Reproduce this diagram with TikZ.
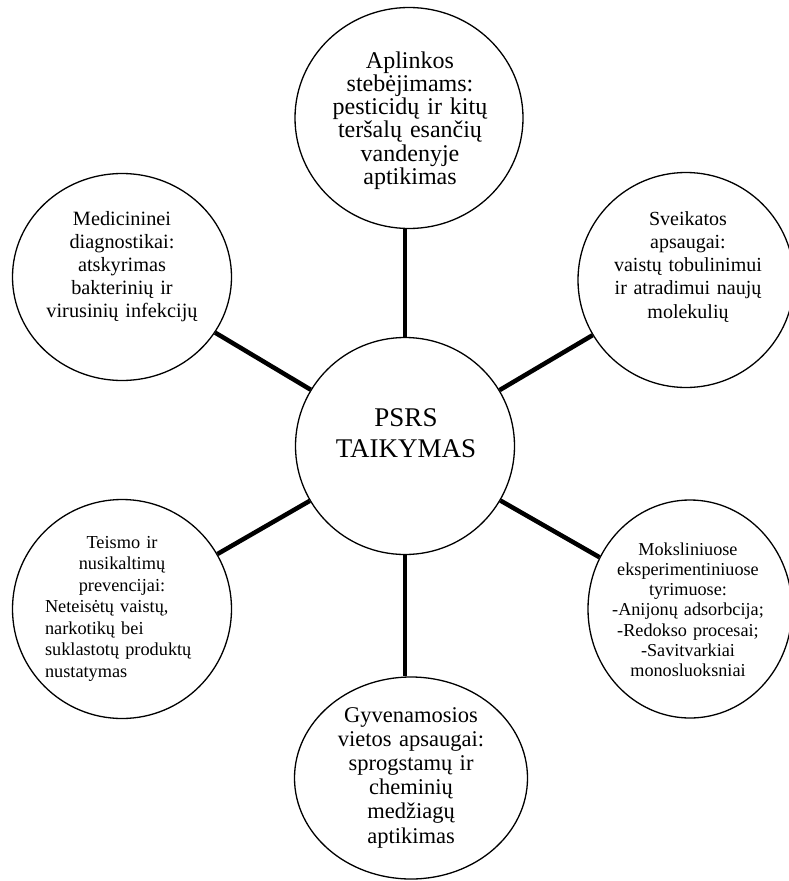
\documentclass[tikz,border=0pt]{standalone}
\usepackage{fontspec}
\setmainfont{Liberation Serif}
\usetikzlibrary{shapes.geometric}
\tikzset{
  bubble/.style={ellipse, draw=black, line width=1.3pt, inner sep=0pt, fill=white},
  spoke/.style={draw=black, line width=4.5pt},
  btext/.style={anchor=base, inner sep=0pt, align=center},
}
\begin{document}
\begin{tikzpicture}[x=1pt,y=-1pt]
\useasboundingbox (0,0) rectangle (789,881);

% spokes first, bubbles drawn over them
\coordinate (c0) at (405,446);
\coordinate (c1) at (122,277);
\coordinate (c2) at (686,280);
\coordinate (c3) at (690,609);
\coordinate (c4) at (122,609);

% bubbles
\node[bubble, minimum width=219pt, minimum height=217pt] (ctr) at (c0) {};
\node[bubble, minimum width=228pt, minimum height=221pt] (top) at (409,118) {};
\node[bubble, minimum width=219pt, minimum height=207pt] (ul) at (c1) {};
\node[bubble, minimum width=216pt, minimum height=215pt] (ur) at (c2) {};
\node[bubble, minimum width=204pt, minimum height=218pt] (lr) at (c3) {};
\node[bubble, minimum width=219pt, minimum height=219pt] (ll) at (c4) {};
\node[bubble, minimum width=233pt, minimum height=202pt] (bot) at (411,778) {};

% spokes
\draw[spoke] (ctr.north) -- (ctr.north |- top.south);
\draw[spoke] (ctr.south) -- (ctr.south |- bot.north);
\draw[spoke] (ctr) -- (ul);
\draw[spoke] (ctr) -- (ur);
\draw[spoke] (ctr) -- (lr);
\draw[spoke] (ctr) -- (ll);

% texts
\node[btext, text width=200pt, font=\fontsize{27}{31}\selectfont] (ctr-t) at (406,426)
  {PSRS\\ TAIKYMAS};
\node[btext, text width=200pt, font=\fontsize{24}{23.3}\selectfont] (top-t) at (410,68)
  {Aplinkos\\ stebėjimams:\\ pesticidų ir kitų\\ teršalų esančių\\ vandenyje\\ aptikimas};
\node[btext, text width=190pt, font=\fontsize{20.3}{23}\selectfont] (ul-t) at (122,225)
  {Medicininei\\ diagnostikai:\\ atskyrimas\\ bakterinių ir\\ virusinių infekcijų};
\node[btext, text width=190pt, font=\fontsize{20}{23.3}\selectfont] (ur-t) at (688,225)
  {Sveikatos\\ apsaugai:\\ vaistų tobulinimui\\ ir atradimui naujų\\ molekulių};
\node[btext, text width=190pt, font=\fontsize{18.2}{20.3}\selectfont] (lr-t) at (688,555)
  {Moksliniuose\\ eksperimentiniuose\\ tyrimuose:\\ -Anijonų adsorbcija;\\ -Redokso procesai;\hspace*{13pt}\\ -Savitvarkiai\hspace*{8pt}\\ monosluoksniai};
\node[anchor=base, inner sep=0pt, align=left, text width=154pt, font=\fontsize{18.3}{21.5}\selectfont] (ll-t) at (122,548)
  {{\centering Teismo ir\\ nusikaltimų\\ prevencijai:\par}Neteisėtų vaistų,\\ narkotikų bei\\ suklastotų produktų\\ nustatymas};
\node[btext, text width=220pt, font=\fontsize{22.5}{24.2}\selectfont] (bot-t) at (411,722)
  {Gyvenamosios\\ vietos apsaugai:\\ sprogstamų ir\\ cheminių\\ medžiagų\\ aptikimas};
\end{tikzpicture}
\end{document}
